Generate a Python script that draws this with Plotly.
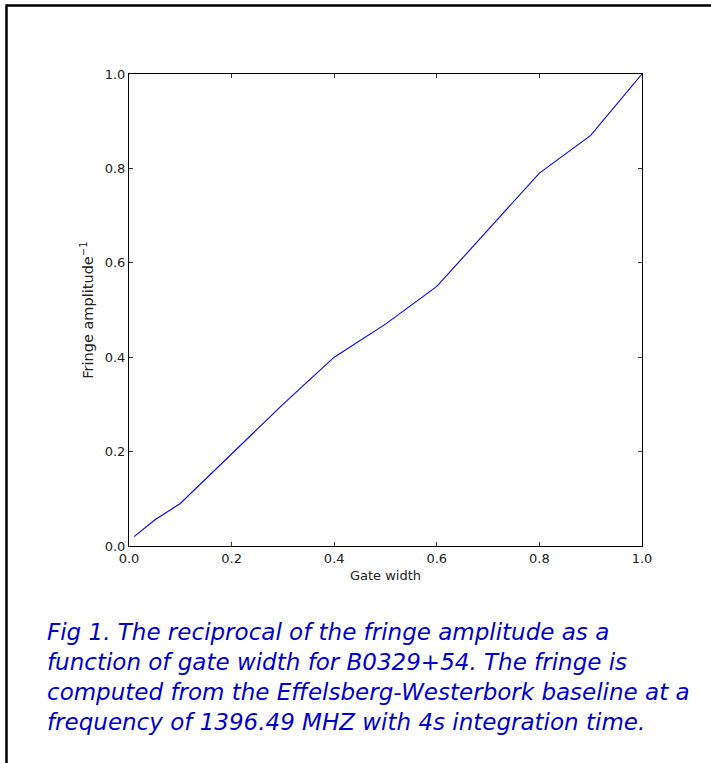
import plotly.graph_objects as go

# Gate width (fraction) and reciprocal fringe amplitude
gate_width = [0.01, 0.05, 0.1, 0.2, 0.3, 0.4, 0.5, 0.6, 0.7, 0.8, 0.9, 1.0]
inv_amplitude = [0.02, 0.055, 0.09, 0.195, 0.30, 0.40, 0.47, 0.55, 0.67, 0.79, 0.87, 1.0]

tick_vals = [0.0, 0.2, 0.4, 0.6, 0.8, 1.0]
tick_text = ["0.0", "0.2", "0.4", "0.6", "0.8", "1.0"]

caption_lines = [
    "Fig 1. The reciprocal of the fringe amplitude as a",
    "function of gate width for B0329+54. The fringe is",
    "computed from the Effelsberg-Westerbork baseline at a",
    "frequency of 1396.49 MHZ with 4s integration time.",
]

W, H = 711, 763
L, R, T, B = 129, 69, 74, 217
pw, ph = W - L - R, H - T - B


def px_x(px):
    return (px - L) / pw


def px_y(py):
    return (H - B - py) / ph


fig = go.Figure()
fig.add_trace(go.Scatter(
    x=gate_width, y=inv_amplitude, mode="lines",
    line=dict(color="#0000ff", width=1.1), showlegend=False,
))

label_font = dict(family="DejaVu Sans", size=13, color="#222")

axis_common = dict(
    range=[0, 1], tickvals=tick_vals, ticktext=tick_text,
    ticks="inside", ticklen=4, tickcolor="#333", tickwidth=1,
    showline=True, linecolor="#000", linewidth=1, mirror="ticks",
    showgrid=False, zeroline=False,
    tickfont=label_font,
)

fig.update_layout(
    width=W, height=H,
    margin=dict(l=L, r=R, t=T, b=B, autoexpand=False),
    paper_bgcolor="white", plot_bgcolor="white",
    xaxis=dict(**axis_common,
               title=dict(text="Gate width", standoff=6, font=label_font)),
    yaxis=dict(**axis_common,
               title=dict(text="Fringe amplitude<sup>\u22121</sup>", standoff=7,
                          font=dict(family="DejaVu Sans", size=14.5, color="#222"))),
    shapes=[
        dict(type="line", xref="paper", yref="paper",
             x0=px_x(6), x1=px_x(711), y0=px_y(5.5), y1=px_y(5.5),
             line=dict(color="black", width=2.5)),
        dict(type="line", xref="paper", yref="paper",
             x0=px_x(6.5), x1=px_x(6.5), y0=px_y(4.5), y1=px_y(763),
             line=dict(color="black", width=2.5)),
    ],
    annotations=[
        dict(
            xref="paper", yref="paper", x=px_x(45), y=px_y(617),
            xanchor="left", yanchor="top", align="left", showarrow=False,
            text="<br>".join("<i>" + s + "</i>" for s in caption_lines),
            font=dict(family="DejaVu Sans", size=23, color="#0000cc"),
        )
    ],
)

fig.write_html("out.html")
